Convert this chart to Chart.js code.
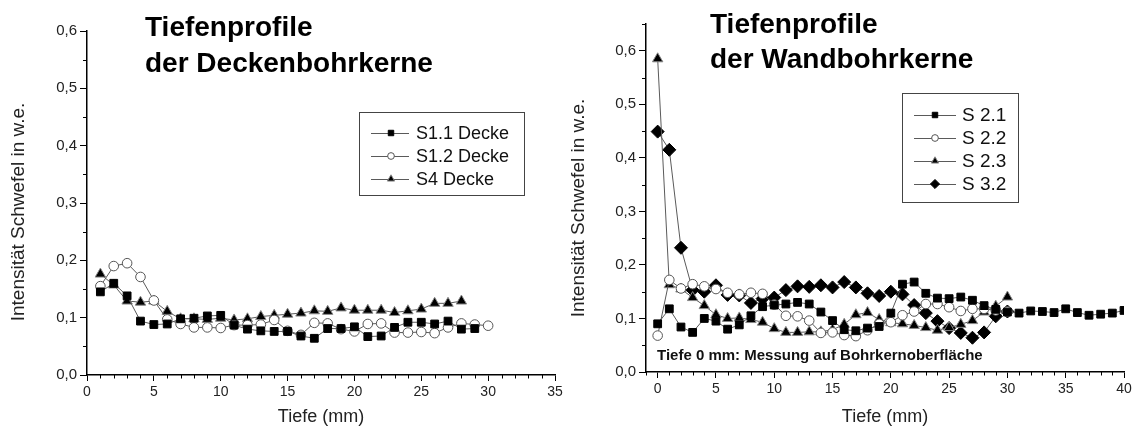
<!DOCTYPE html>
<html lang="de">
<head>
<meta charset="utf-8">
<title>Tiefenprofile</title>
<script src="https://cdn.jsdelivr.net/npm/chart.js@4.4.1/dist/chart.umd.min.js"></script>
<style>
  html, body { margin: 0; padding: 0; background: #fff; }
  body { width: 1135px; height: 428px; position: relative; overflow: hidden; font-family: 'Liberation Sans', Arial, sans-serif; }
  .panel { position: absolute; top: 0; }
  .title { position: absolute; font-weight: bold; font-size: 28px; color: #000; white-space: nowrap; }
  .note { position: absolute; font-weight: bold; font-size: 15px; line-height: 18px; color: #111; white-space: nowrap; }
  .ytitle { position: absolute; width: 300px; margin-left: -150px; text-align: center; font-size: 19px; line-height: 22px; margin-top: -11px; color: #222; transform: rotate(-90deg); white-space: nowrap; }
</style>
</head>
<body>
<div class="panel" style="left:0;width:570px;height:428px"><canvas id="deckeChart" width="570" height="428"></canvas></div>
<div class="panel" style="left:560px;width:575px;height:428px"><canvas id="wandChart" width="575" height="428"></canvas></div>
<div class="title" style="left:145px;top:9px;line-height:36px">Tiefenprofile<br>der Deckenbohrkerne</div>
<div class="title" style="left:710px;top:6px;line-height:35px">Tiefenprofile<br>der Wandbohrkerne</div>
<div class="note" style="left:657px;top:346px">Tiefe 0 mm: Messung auf Bohrkernoberfläche</div>
<div class="ytitle" id="yTitleDecke" style="left:18px;top:212px"></div>
<div class="ytitle" id="yTitleWand" style="left:578px;top:208px"></div>
<script>
/* Tiefenprofile Schwefel – Decke / Wand */
const yTitle = 'Intensität Schwefel in w.e.';
const xTitle = 'Tiefe (mm)';

// Deckenbohrkerne
const deckeDepth = [1, 2, 3, 4, 5, 6, 7, 8, 9, 10, 11, 12, 13, 14, 15, 16, 17, 18, 19, 20, 21, 22, 23, 24, 25, 26, 27, 28, 29, 30];
const s11Decke = [0.145, 0.160, 0.138, 0.094, 0.088, 0.089, 0.098, 0.099, 0.103, 0.104, 0.087, 0.080, 0.077, 0.076, 0.076, 0.068, 0.064, 0.081, 0.081, 0.084, 0.067, 0.068, 0.083, 0.092, 0.092, 0.089, 0.094, 0.080, 0.081];
const s12Decke = [0.155, 0.190, 0.195, 0.171, 0.130, 0.097, 0.089, 0.083, 0.083, 0.082, 0.087, 0.087, 0.088, 0.096, 0.077, 0.070, 0.091, 0.090, 0.080, 0.076, 0.089, 0.090, 0.074, 0.074, 0.075, 0.073, 0.083, 0.090, 0.088, 0.086];
const s4Decke = [0.176, 0.157, 0.129, 0.127, 0.129, 0.111, 0.098, 0.098, 0.097, 0.099, 0.096, 0.098, 0.102, 0.104, 0.106, 0.108, 0.112, 0.111, 0.117, 0.113, 0.113, 0.113, 0.109, 0.112, 0.115, 0.125, 0.125, 0.129];

// Wandbohrkerne
const wandDepth = [0, 1, 2, 3, 4, 5, 6, 7, 8, 9, 10, 11, 12, 13, 14, 15, 16, 17, 18, 19, 20, 21, 22, 23, 24, 25, 26, 27, 28, 29, 30, 31, 32, 33, 34, 35, 36, 37, 38, 39, 40];
const s21 = [0.090, 0.118, 0.084, 0.074, 0.100, 0.095, 0.080, 0.088, 0.105, 0.122, 0.125, 0.127, 0.130, 0.127, 0.112, 0.096, 0.079, 0.077, 0.082, 0.085, 0.110, 0.164, 0.168, 0.147, 0.138, 0.137, 0.140, 0.134, 0.124, 0.117, 0.112, 0.110, 0.114, 0.113, 0.111, 0.118, 0.111, 0.106, 0.108, 0.110, 0.115];
const s22 = [0.068, 0.172, 0.156, 0.164, 0.160, 0.155, 0.148, 0.145, 0.148, 0.146, 0.126, 0.105, 0.104, 0.096, 0.073, 0.074, 0.069, 0.067, 0.078, 0.090, 0.093, 0.106, 0.113, 0.127, 0.127, 0.121, 0.114, 0.118, 0.118, 0.115, 0.113];
const s23 = [0.585, 0.163, 0.155, 0.139, 0.124, 0.107, 0.100, 0.101, 0.098, 0.093, 0.081, 0.074, 0.074, 0.075, 0.075, 0.079, 0.089, 0.107, 0.111, 0.098, 0.092, 0.090, 0.087, 0.083, 0.078, 0.083, 0.089, 0.096, 0.112, 0.123, 0.140];
const s32 = [0.449, 0.415, 0.232, 0.153, 0.150, 0.162, 0.144, 0.143, 0.129, 0.137, 0.139, 0.153, 0.160, 0.159, 0.162, 0.158, 0.168, 0.158, 0.147, 0.142, 0.150, 0.145, 0.125, 0.110, 0.095, 0.082, 0.073, 0.064, 0.074, 0.104, 0.113];

const FONT = "'Liberation Sans', Arial, sans-serif";
Chart.defaults.font.family = FONT;
Chart.defaults.color = '#222';

document.getElementById('yTitleDecke').textContent = yTitle;
document.getElementById('yTitleWand').textContent = yTitle;

const MARKERS = {
  square: { pointStyle: 'rect', pointRadius: 5.5, pointBackgroundColor: '#000', pointBorderColor: '#000' },
  circle: { pointStyle: 'circle', pointRadius: 4.8, pointBackgroundColor: '#fff', pointBorderColor: '#555' },
  triangle: { pointStyle: 'triangle', pointRadius: 6, pointBackgroundColor: '#000', pointBorderColor: '#888' },
  diamond: { pointStyle: 'rectRot', pointRadius: 6.5, pointBackgroundColor: '#000', pointBorderColor: '#000' },
};

function series(label, depth, values, marker) {
  return {
    label,
    data: values.map((v, i) => ({ x: depth[i], y: v })),
    borderColor: '#5a5a5a',
    borderWidth: 1,
    pointBorderWidth: 1,
    tension: 0,
    fill: false,
    ...MARKERS[marker],
  };
}

const isMajorY = v => Math.abs(v * 10 - Math.round(v * 10)) < 1e-6;
const isMajorX = v => Math.abs(v % 5) < 1e-6;

// short minor ticks, drawn from the scale positions
const minorTicks = {
  id: 'minorTicks',
  afterDraw(chart) {
    const ctx = chart.ctx;
    const xs = chart.scales.x, ys = chart.scales.y;
    ctx.save();
    ctx.strokeStyle = '#000';
    ctx.lineWidth = 1;
    xs.ticks.forEach(t => {
      if (isMajorX(t.value)) return;
      const p = Math.round(xs.getPixelForValue(t.value)) + 0.5;
      ctx.beginPath(); ctx.moveTo(p, xs.top); ctx.lineTo(p, xs.top + 3.5); ctx.stroke();
    });
    ys.ticks.forEach(t => {
      if (isMajorY(t.value)) return;
      const p = Math.round(ys.getPixelForValue(t.value)) + 0.5;
      ctx.beginPath(); ctx.moveTo(ys.right, p); ctx.lineTo(ys.right - 4, p); ctx.stroke();
    });
    ctx.restore();
  },
};

// boxed legend inside the plot, like the Origin original
const boxLegend = {
  id: 'boxLegend',
  afterDraw(chart, args, o) {
    const ctx = chart.ctx;
    ctx.save();
    ctx.strokeStyle = '#444';
    ctx.lineWidth = 1;
    ctx.strokeRect(o.x + 0.5, o.y + 0.5, o.w, o.h);
    ctx.font = `${o.size}px ${FONT}`;
    ctx.textBaseline = 'middle';
    chart.data.datasets.forEach((ds, i) => {
      const y = o.y + o.first + i * o.row;
      ctx.strokeStyle = ds.borderColor;
      ctx.beginPath();
      ctx.moveTo(o.x + o.lineFrom, y + 0.5);
      ctx.lineTo(o.x + o.lineTo, y + 0.5);
      ctx.stroke();
      ctx.fillStyle = ds.pointBackgroundColor;
      ctx.strokeStyle = ds.pointBorderColor;
      Chart.helpers.drawPoint(ctx, { pointStyle: ds.pointStyle, radius: ds.pointRadius * 0.7, borderWidth: 1, rotation: 0 }, o.x + o.marker, y);
      ctx.fillStyle = '#111';
      ctx.fillText(ds.label, o.x + o.text, y + 1);
    });
    ctx.restore();
  },
};

function makeChart(id, datasets, cfg) {
  return new Chart(document.getElementById(id), {
    type: 'line',
    data: { datasets },
    plugins: [minorTicks, boxLegend],
    options: {
      responsive: false,
      animation: false,
      layout: { padding: cfg.padding },
      plugins: {
        legend: { display: false },
        tooltip: { enabled: false },
        boxLegend: cfg.legend,
      },
      scales: {
        x: {
          type: 'linear',
          min: cfg.xMin,
          max: cfg.xMax,
          afterFit: s => { s.height = cfg.xHeight; },
          border: { color: '#000', width: 1.5 },
          grid: { drawOnChartArea: false, tickLength: 6, tickColor: c => isMajorX(c.tick.value) ? '#000' : 'rgba(0,0,0,0)' },
          ticks: { stepSize: 1, autoSkip: false, maxRotation: 0, padding: 3, color: '#222', font: { size: 14 }, callback: v => isMajorX(v) ? String(v) : '' },
          title: { display: true, text: xTitle, color: '#222', font: { size: 18 }, padding: { top: 0, bottom: 0 } },
        },
        y: {
          min: 0,
          max: cfg.yMax,
          afterFit: s => { s.width = cfg.yWidth; },
          border: { color: '#000', width: 1.5 },
          grid: { drawOnChartArea: false, tickLength: 7, tickColor: c => isMajorY(c.tick.value) ? '#000' : 'rgba(0,0,0,0)' },
          ticks: { stepSize: 0.05, autoSkip: false, padding: 3, color: '#222', font: { size: 15 }, callback: v => isMajorY(v) ? v.toFixed(1).replace('.', ',') : '' },
          title: { display: false },
        },
      },
    },
  });
}

makeChart('deckeChart', [
  series('S1.1 Decke', deckeDepth, s11Decke, 'square'),
  series('S1.2 Decke', deckeDepth, s12Decke, 'circle'),
  series('S4 Decke', deckeDepth, s4Decke, 'triangle'),
], {
  xMin: 0, xMax: 35, yMax: 0.6,
  yWidth: 87, xHeight: 53,
  padding: { top: 31, right: 15, left: 0, bottom: 0 },
  legend: { x: 359, y: 112, w: 165, h: 83, first: 21, row: 23, lineFrom: 12, lineTo: 50, marker: 32, text: 57, size: 18 },
});

makeChart('wandChart', [
  series('S 2.1', wandDepth, s21, 'square'),
  series('S 2.2', wandDepth, s22, 'circle'),
  series('S 2.3', wandDepth, s23, 'triangle'),
  series('S 3.2', wandDepth, s32, 'diamond'),
], {
  xMin: -1, xMax: 40, yMax: 0.65,
  yWidth: 86, xHeight: 56,
  padding: { top: 24, right: 11, left: 0, bottom: 0 },
  legend: { x: 342, y: 93, w: 116, h: 109, first: 22, row: 23, lineFrom: 12, lineTo: 54, marker: 33, text: 60, size: 19 },
});
</script>
</body>
</html>
